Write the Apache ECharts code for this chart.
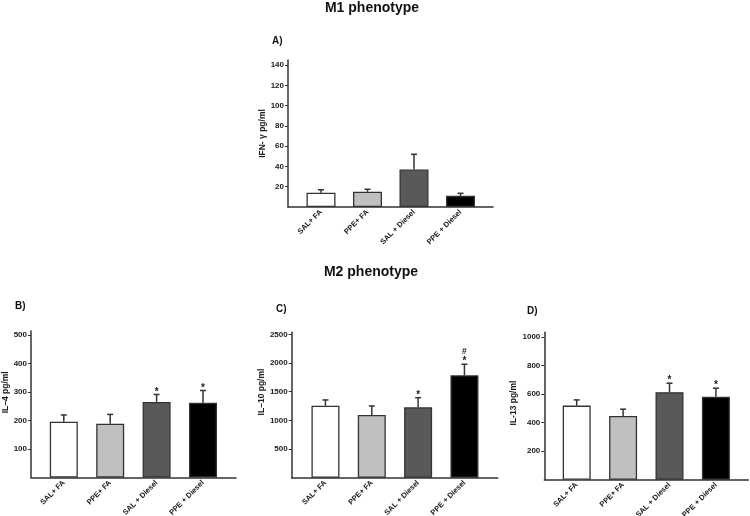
<!DOCTYPE html>
<html>
<head>
<meta charset="utf-8">
<script src="https://cdn.jsdelivr.net/npm/echarts@6/dist/echarts.min.js"></script>
<style>html,body{margin:0;padding:0;background:#fff;}#chart{width:750px;height:516px;}</style>
</head>
<body>
<div id="chart"></div>
<script>
// ---- data ----
const categories = ['SAL+ FA', 'PPE+ FA', 'SAL + Diesel', 'PPE + Diesel'];

const ifnMean  = [14, 15, 37, 11];
const ifnUpper = [17, 17.5, 52, 13.5];
const ifnSig   = [[], [], [], []];
const ifnTicks = [20, 40, 60, 80, 100, 120, 140];

const il4Mean  = [196, 189, 266, 263];
const il4Upper = [220, 222, 292, 306];
const il4Sig   = [[], [], ['*'], ['*']];
const il4Ticks = [100, 200, 300, 400, 500];

const il10Mean  = [1256, 1094, 1228, 1787];
const il10Upper = [1356, 1251, 1396, 1979];
const il10Sig   = [[], [], ['*'], ['*', '#']];
const il10Ticks = [500, 1000, 1500, 2000, 2500];

const il13Mean  = [520, 448, 614, 583];
const il13Upper = [560, 495, 677, 642];
const il13Sig   = [[], [], ['*'], ['*']];
const il13Ticks = [200, 400, 600, 800, 1000];

// ---- styling / layout ----
const FONT = 'Liberation Sans, Arial, Helvetica, sans-serif';
const barColors = ['#ffffff', '#c0c0c0', '#595959', '#000000'];
const AXC = '#333333';

const panels = [
  {name: 'IFN- \u03b3 pg/ml', mean: ifnMean, upper: ifnUpper, sig: ifnSig, ticks: ifnTicks, max: 145,
   fx: 288, fw: 205, bx: 297.75, bw: 186, top: 60, bottom: 207, barW: 29, nameGap: 19, nameShift: 0},
  {name: 'IL\u20134 pg/ml', mean: il4Mean, upper: il4Upper, sig: il4Sig, ticks: il4Ticks, max: 515,
   fx: 31, fw: 205, bx: 40.6, bw: 185.6, top: 331, bottom: 477.6, barW: 28, nameGap: 21, nameShift: 24},
  {name: 'IL\u201310 pg/ml', mean: il10Mean, upper: il10Upper, sig: il10Sig, ticks: il10Ticks, max: 2536,
   fx: 291.7, fw: 206, bx: 302.3, bw: 185.3, top: 332.3, bottom: 477.7, barW: 28, nameGap: 25, nameShift: 26},
  {name: 'IL-13 pg/ml', mean: il13Mean, upper: il13Upper, sig: il13Sig, ticks: il13Ticks, max: 1034,
   fx: 544.3, fw: 204, bx: 553.5, bw: 185.6, top: 332.3, bottom: 479.8, barW: 28, nameGap: 18, nameShift: 6}
];

const grid = [], xAxis = [], yAxis = [], series = [];

panels.forEach((p, k) => {
  const g0 = grid.length;
  grid.push({left: p.fx, top: p.top, width: p.fw, height: p.bottom - p.top, outerBoundsMode: 'none', containLabel: false});
  const g1 = grid.length;
  grid.push({left: p.bx, top: p.top, width: p.bw, height: p.bottom - p.top, outerBoundsMode: 'none', containLabel: false});

  // frame axes
  xAxis.push({gridIndex: g0, type: 'value', min: 0, max: 1,
    axisLine: {show: true, onZero: false, lineStyle: {color: AXC, width: 1.5}},
    axisTick: {show: false}, axisLabel: {show: false}, splitLine: {show: false}});
  yAxis.push({gridIndex: g0, type: 'value', min: 0, max: p.max,
    axisLine: {show: true, lineStyle: {color: AXC, width: 1.5}},
    axisTick: {show: true, length: 3, customValues: p.ticks, lineStyle: {color: AXC, width: 1}},
    axisLabel: {customValues: p.ticks, formatter: v => String(v), fontSize: 8, fontWeight: 'bold',
      fontFamily: FONT, color: '#1a1a1a', margin: 4},
    splitLine: {show: false},
    name: p.name, nameLocation: 'middle', nameGap: p.nameGap,
    nameTextStyle: {fontSize: 8.5, fontWeight: 'bold', fontFamily: FONT, color: '#1a1a1a',
      padding: [0, 0, 0, p.nameShift]}
  });
  // bar axes
  xAxis.push({gridIndex: g1, type: 'category', data: categories,
    axisLine: {show: false}, axisTick: {show: false},
    axisLabel: {rotate: 45, interval: 0, fontSize: 7.5, fontWeight: 'bold', fontFamily: FONT, color: '#1a1a1a', margin: 4}});
  yAxis.push({gridIndex: g1, type: 'value', min: 0, max: p.max, show: false});

  const xi = xAxis.length - 1, yi = yAxis.length - 1;
  series.push({
    type: 'bar', xAxisIndex: xi, yAxisIndex: yi, barWidth: p.barW, z: 2,
    data: p.mean.map((v, i) => ({value: v, itemStyle: {color: barColors[i], borderColor: AXC, borderWidth: 1.3}}))
  });
  const sig = p.sig;
  series.push({
    type: 'custom', xAxisIndex: xi, yAxisIndex: yi, z: 3,
    encode: {x: 0, y: [1, 2]},
    data: p.mean.map((v, i) => [i, v, p.upper[i]]),
    renderItem: function (params, api) {
      const i = api.value(0);
      const p0 = api.coord([i, api.value(1)]);
      const p1 = api.coord([i, api.value(2)]);
      const st = {stroke: AXC, lineWidth: 1.5};
      const children = [
        {type: 'line', shape: {x1: p0[0], y1: p0[1], x2: p1[0], y2: p1[1]}, style: st},
        {type: 'line', shape: {x1: p1[0] - 3, y1: p1[1], x2: p1[0] + 3, y2: p1[1]}, style: st}
      ];
      (sig[params.dataIndex] || []).forEach((s, j) => {
        const isStar = s === '*';
        children.push({type: 'text', style: {text: s, x: p1[0], y: p1[1] - (isStar ? 2.5 : 12.5),
          align: 'center', verticalAlign: 'middle', fontSize: isStar ? 10 : 8.5, fontWeight: 'bold',
          fontFamily: FONT, fill: '#1a1a1a'}});
      });
      return {type: 'group', children: children};
    }
  });
});

const titleStyle = {fontSize: 14, fontWeight: 'bold', fontFamily: FONT, color: '#111'};
const labStyle = {fontSize: 10, fontWeight: 'bold', fontFamily: FONT, color: '#111'};
const option = {
  animation: false,
  backgroundColor: '#ffffff',
  title: [
    {text: 'M1 phenotype', left: 372, top: 1, textAlign: 'center', padding: 0, textStyle: titleStyle},
    {text: 'M2 phenotype', left: 371, top: 265, textAlign: 'center', padding: 0, textStyle: titleStyle},
    {text: 'A)', left: 272, top: 36, padding: 0, textStyle: labStyle},
    {text: 'B)', left: 15, top: 301, padding: 0, textStyle: labStyle},
    {text: 'C)', left: 276, top: 304, padding: 0, textStyle: labStyle},
    {text: 'D)', left: 527, top: 306, padding: 0, textStyle: labStyle}
  ],
  grid: grid, xAxis: xAxis, yAxis: yAxis, series: series
};
const chart = echarts.init(document.getElementById('chart'), null, {renderer: 'canvas'});
chart.setOption(option);
</script>
</body>
</html>
